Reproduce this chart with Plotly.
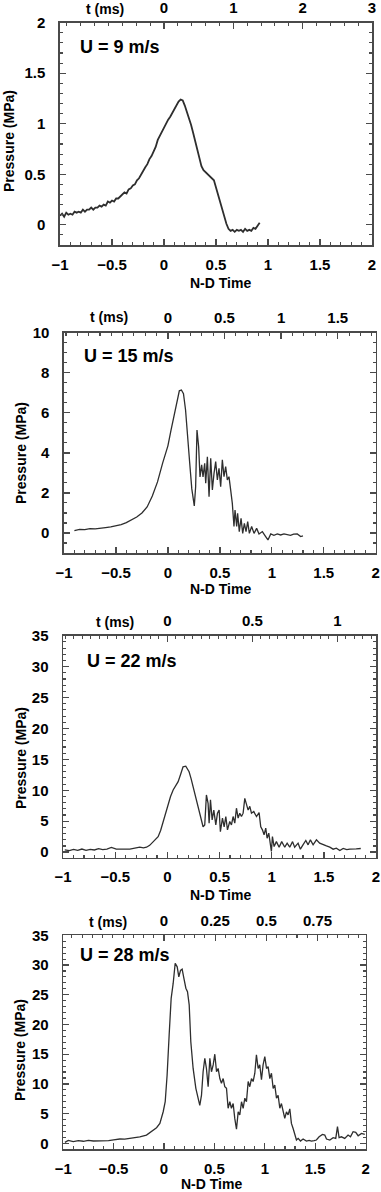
import plotly.graph_objects as go

W, H = 381, 1192

# ---------------- data ----------------
# Panel 1: U = 9 m/s
nd_9 = [-1.00, -0.98, -0.96, -0.94, -0.92, -0.90, -0.88, -0.86, -0.84, -0.82,
        -0.80, -0.78, -0.76, -0.74, -0.72, -0.70, -0.68, -0.66, -0.64, -0.62,
        -0.60, -0.58, -0.56, -0.54, -0.52, -0.50, -0.48, -0.46, -0.44, -0.42,
        -0.40, -0.38, -0.36, -0.34, -0.32, -0.30, -0.28, -0.26, -0.24, -0.22,
        -0.20, -0.18, -0.16, -0.14, -0.12, -0.10, -0.08, -0.06, -0.04, -0.02,
        0.00, 0.02, 0.04, 0.06, 0.08, 0.10, 0.12, 0.14, 0.16, 0.18,
        0.20, 0.22, 0.24, 0.26, 0.28, 0.30, 0.32, 0.34, 0.36, 0.38,
        0.40, 0.42, 0.44, 0.46, 0.48, 0.50, 0.52, 0.54, 0.56, 0.58,
        0.60, 0.62, 0.64, 0.66, 0.68, 0.70, 0.72, 0.74, 0.76, 0.78,
        0.80, 0.82, 0.84, 0.86, 0.88, 0.90, 0.92]
p_9 = [0.09, 0.11, 0.08, 0.12, 0.10, 0.11, 0.10, 0.13, 0.12, 0.13,
       0.12, 0.15, 0.13, 0.15, 0.15, 0.17, 0.15, 0.17, 0.17, 0.19,
       0.18, 0.20, 0.19, 0.23, 0.22, 0.24, 0.23, 0.26, 0.26, 0.28,
       0.29, 0.32, 0.31, 0.35, 0.36, 0.39, 0.40, 0.44, 0.46, 0.50,
       0.53, 0.57, 0.60, 0.65, 0.68, 0.73, 0.77, 0.84, 0.88, 0.93,
       0.96, 1.00, 1.04, 1.07, 1.11, 1.15, 1.19, 1.22, 1.24, 1.23,
       1.18, 1.12, 1.06, 0.99, 0.91, 0.83, 0.74, 0.66, 0.58, 0.54,
       0.52, 0.51, 0.49, 0.47, 0.44, 0.37, 0.30, 0.23, 0.15, 0.07,
       0.01, -0.04, -0.06, -0.05, -0.07, -0.05, -0.06, -0.05, -0.07, -0.04,
       -0.06, -0.05, -0.06, -0.03, -0.04, -0.01, 0.02]

# Panel 2: U = 15 m/s
nd_15 = [-0.90, -0.85, -0.80, -0.75, -0.70, -0.65, -0.60, -0.55, -0.50, -0.45,
         -0.40, -0.35, -0.30, -0.25, -0.20, -0.15, -0.10, -0.05, 0.00, 0.03,
         0.06, 0.09, 0.11, 0.13, 0.15, 0.17, 0.19, 0.21, 0.23, 0.245,
         0.254, 0.267, 0.28, 0.296, 0.309, 0.325, 0.338, 0.354, 0.364, 0.38,
         0.396, 0.412, 0.428, 0.444, 0.46, 0.476, 0.492, 0.508, 0.524, 0.54,
         0.556, 0.572, 0.588, 0.604, 0.62, 0.636, 0.646, 0.662, 0.671, 0.687,
         0.704, 0.72, 0.736, 0.752, 0.768, 0.784, 0.806, 0.829, 0.854, 0.877,
         0.909, 0.941, 0.963, 0.99, 1.02, 1.053, 1.085, 1.117, 1.15, 1.18,
         1.21, 1.245, 1.278, 1.30]
p_15 = [0.12, 0.18, 0.17, 0.22, 0.20, 0.25, 0.27, 0.30, 0.35, 0.42,
        0.52, 0.65, 0.80, 1.00, 1.30, 1.85, 2.55, 3.50, 4.35, 5.14,
        5.90, 6.60, 7.10, 7.14, 6.95, 6.14, 5.00, 3.48, 2.20, 1.65,
        1.35, 2.31, 5.14, 4.30, 2.80, 3.40, 2.80, 3.48, 2.48, 3.81,
        1.81, 3.73, 2.15, 2.98, 3.56, 2.65, 3.23, 2.31, 3.65, 2.81,
        3.31, 2.65, 2.81, 2.15, 1.48, 0.32, 1.15, 0.32, 0.98, 0.07,
        0.73, -0.02, 0.48, 0.07, 0.57, -0.02, 0.32, -0.02, 0.23, -0.05,
        0.07, -0.18, -0.35, -0.05, -0.12, -0.05, -0.10, -0.05, -0.08, -0.12,
        -0.06, -0.05, -0.18, -0.15]

# Panel 3: U = 22 m/s
nd_22 = [-0.984, -0.94, -0.90, -0.86, -0.82, -0.78, -0.74, -0.70, -0.66, -0.62,
         -0.58, -0.537, -0.49, -0.44, -0.40, -0.36, -0.31, -0.265, -0.23, -0.20,
         -0.17, -0.137, -0.11, -0.089, -0.065, -0.041, -0.017, 0.007, 0.03, 0.055,
         0.08, 0.103, 0.127, 0.15, 0.176, 0.208, 0.227, 0.246, 0.27, 0.294,
         0.318, 0.342, 0.358, 0.374, 0.39, 0.40, 0.413, 0.429, 0.445, 0.464,
         0.48, 0.496, 0.508, 0.528, 0.544, 0.56, 0.576, 0.598, 0.614, 0.63,
         0.646, 0.662, 0.678, 0.694, 0.71, 0.726, 0.742, 0.758, 0.774, 0.79,
         0.806, 0.828, 0.854, 0.879, 0.895, 0.911, 0.927, 0.943, 0.956, 0.972,
         0.988, 0.997, 1.007, 1.023, 1.045, 1.071, 1.096, 1.125, 1.148, 1.173,
         1.20, 1.22, 1.253, 1.275, 1.30, 1.327, 1.349, 1.371, 1.397, 1.429,
         1.46, 1.493, 1.525, 1.557, 1.589, 1.62, 1.653, 1.685, 1.72, 1.749,
         1.78, 1.81, 1.854]
p_22 = [0.37, 0.25, 0.45, 0.30, 0.50, 0.28, 0.45, 0.35, 0.55, 0.40,
        0.50, 0.75, 0.48, 0.55, 0.50, 0.48, 0.62, 0.80, 0.70, 0.80,
        1.10, 1.70, 2.10, 2.50, 3.50, 4.95, 6.60, 7.90, 9.00, 10.06,
        10.70, 11.40, 12.60, 13.80, 13.90, 13.00, 11.90, 10.60, 9.00, 7.40,
        5.70, 4.10, 4.40, 9.25, 7.90, 4.68, 8.45, 5.20, 6.80, 4.40,
        6.30, 6.80, 3.30, 5.50, 4.10, 5.76, 3.60, 4.95, 4.40, 5.76,
        4.68, 7.10, 5.50, 6.30, 5.76, 6.30, 8.70, 7.60, 6.80, 7.40,
        6.30, 6.56, 5.76, 6.40, 4.10, 3.60, 2.80, 3.87, 2.25, 3.06,
        1.18, 0.10, 2.50, 0.90, 1.70, 0.80, 1.70, 0.80, 1.45, 0.80,
        1.70, 0.80, 1.45, 0.48, 1.18, 1.88, 1.18, 1.99, 1.18, 1.99,
        1.45, 1.18, 1.00, 0.80, 0.48, 0.64, 0.26, 0.59, 0.40, 0.48,
        0.55, 0.53, 0.59]

# Panel 4: U = 28 m/s
nd_28 = [-0.983, -0.95, -0.90, -0.85, -0.80, -0.75, -0.70, -0.65, -0.60, -0.55,
         -0.50, -0.438, -0.39, -0.339, -0.29, -0.24, -0.174, -0.124, -0.074, -0.041,
         -0.008, 0.012, 0.031, 0.051, 0.071, 0.091, 0.111, 0.131, 0.147, 0.164,
         0.18, 0.197, 0.217, 0.233, 0.25, 0.266, 0.289, 0.316, 0.339, 0.355,
         0.372, 0.388, 0.405, 0.421, 0.438, 0.455, 0.471, 0.488, 0.504, 0.521,
         0.537, 0.554, 0.57, 0.587, 0.603, 0.62, 0.636, 0.653, 0.669, 0.686,
         0.702, 0.719, 0.736, 0.752, 0.769, 0.785, 0.802, 0.818, 0.835, 0.851,
         0.868, 0.884, 0.901, 0.917, 0.934, 0.95, 0.967, 0.983, 1.00, 1.017,
         1.033, 1.05, 1.066, 1.083, 1.099, 1.116, 1.132, 1.149, 1.165, 1.182,
         1.198, 1.215, 1.231, 1.248, 1.264, 1.281, 1.297, 1.314, 1.331, 1.354,
         1.38, 1.413, 1.44, 1.463, 1.49, 1.512, 1.539, 1.572, 1.595, 1.612,
         1.645, 1.678, 1.704, 1.721, 1.737, 1.76, 1.793, 1.826, 1.85, 1.876,
         1.902, 1.926, 1.959, 1.992]
p_28 = [0.16, 0.50, 0.30, 0.45, 0.35, 0.50, 0.40, 0.40, 0.50, 0.45,
        0.60, 0.73, 0.70, 0.84, 0.90, 1.10, 1.40, 1.96, 2.63, 3.36,
        5.32, 7.00, 11.50, 18.20, 24.40, 26.90, 30.30, 29.70, 28.00, 29.10,
        29.30, 27.80, 26.10, 25.50, 23.30, 17.10, 12.60, 9.25, 7.30, 6.40,
        8.10, 12.05, 14.30, 12.60, 9.53, 14.30, 12.05, 13.20, 15.00, 12.05,
        12.60, 10.90, 10.10, 10.90, 9.53, 9.25, 5.90, 7.00, 5.90, 6.70,
        4.20, 2.40, 5.30, 4.80, 7.00, 5.90, 7.60, 7.00, 10.40, 9.53,
        10.90, 10.40, 11.80, 14.90, 12.60, 13.20, 10.70, 13.20, 14.60, 12.60,
        12.90, 10.90, 11.80, 9.25, 9.80, 7.60, 8.10, 5.90, 6.70, 5.30,
        4.20, 5.30, 4.80, 5.80, 3.36, 2.50, 1.40, 0.56, 0.84, 0.39,
        0.73, 0.39, 0.50, 0.39, 0.45, 0.56, 1.10, 1.50, 1.40, 0.73,
        0.56, 0.95, 0.84, 2.80, 0.95, 1.10, 0.84, 1.40, 1.10, 1.96,
        1.85, 1.28, 1.68, 1.50]

labels = ["U = 9 m/s", "U = 15 m/s", "U = 22 m/s", "U = 28 m/s"]
series = [(nd_9, p_9), (nd_15, p_15), (nd_22, p_22), (nd_28, p_28)]
widths = [1.8, 1.3, 1.3, 1.3]

# ---------------- layout geometry (pixels) ----------------
panels = [
    dict(x0=60, x1=372, y0=22.7, y1=245, yr=[-0.2, 2], ydt=0.5, ymin=0.1,
         tr=[-1.5, 3], tdt=1, tmin=0.2, tvals=[0, 1, 2, 3],
         lab=(78, 47), tms=(105, 9), ytl=(9, 141), ndt=(220, 283)),
    dict(x0=64, x1=375.7, y0=332.7, y1=553, yr=[-1, 10], ydt=2, ymin=0.5,
         tr=[-1/1.09, 2/1.09], tdt=0.5, tmin=0.1, tvals=[0, 0.5, 1, 1.5],
         lab=(82, 356), tms=(109, 317), ytl=(21, 453), ndt=(220, 589)),
    dict(x0=63.1, x1=376, y0=635.7, y1=857.7, yr=[-0.9, 35], ydt=5, ymin=1,
         tr=[-1/1.63, 2/1.63], tdt=0.5, tmin=0.05, tvals=[0, 0.5, 1],
         lab=(85, 661), tms=(115, 622), ytl=(21, 758), ndt=(220, 895)),
    dict(x0=63.2, x1=365.6, y0=935.3, y1=1149.3, yr=[-1, 35], ydt=5, ymin=1,
         tr=[-1/2.03, 2/2.03], tdt=0.25, tmin=0.05, tvals=[0, 0.25, 0.5, 0.75],
         lab=(78, 955), tms=(108, 922), ytl=(20, 1050), ndt=(211, 1184)),
]

FONT = "Arial, Liberation Sans, Helvetica, sans-serif"
AX = "#4a4a4a"
LINE = "#2e2e2e"

fig = go.Figure()
layout = dict(width=W, height=H, margin=dict(l=0, r=0, t=0, b=0, pad=0, autoexpand=False),
              paper_bgcolor="white", plot_bgcolor="white", showlegend=False,
              font=dict(family=FONT, color="black"))
annotations = []

def fx(px):
    return px / W

def fy(py):
    return 1 - py / H

for i, (pn, (xs, ys)) in enumerate(zip(panels, series)):
    xm = f"x{2*i+1}" if i > 0 else "x"
    xt = f"x{2*i+2}"
    yk = f"y{i+1}" if i > 0 else "y"
    xm_name = "xaxis" + (str(2*i+1) if i > 0 else "")
    xt_name = "xaxis" + str(2*i+2)
    y_name = "yaxis" + (str(i+1) if i > 0 else "")

    fig.add_trace(go.Scatter(x=xs, y=ys, mode="lines", xaxis=xm, yaxis=yk,
                             line=dict(color=LINE, width=widths[i]), hoverinfo="skip"))
    # dummy trace so the top (ms) axis is drawn
    fig.add_trace(go.Scatter(x=pn["tr"], y=[None, None], mode="lines", xaxis=xt, yaxis=yk,
                             hoverinfo="skip", showlegend=False))

    dom_x = [fx(pn["x0"]), fx(pn["x1"])]
    dom_y = [fy(pn["y1"]), fy(pn["y0"])]

    tf = dict(size=15, family=FONT, weight="bold", color="black")
    layout[xm_name] = dict(domain=dom_x, anchor=yk, range=[-1, 2], tickmode="linear",
                           tick0=-1, dtick=0.5, ticks="inside", ticklen=6, tickwidth=1.3,
                           tickcolor=AX, showline=True, linecolor=AX, linewidth=1.6,
                           showgrid=False, zeroline=False, ticklabelstandoff=5,
                           automargin=False, tickfont=tf,
                           minor=dict(dtick=0.1, tick0=-1, ticks="inside", ticklen=3,
                                      tickwidth=1.1, tickcolor=AX, showgrid=False))
    layout[xt_name] = dict(overlaying=xm, anchor=yk, side="top", range=pn["tr"],
                           tickmode="array", tickvals=pn["tvals"],
                           ticktext=[f"{v:g}" for v in pn["tvals"]],
                           ticks="inside", ticklen=6, tickwidth=1.3, tickcolor=AX,
                           showline=True, linecolor=AX, linewidth=1.6,
                           showgrid=False, zeroline=False, ticklabelstandoff=2,
                           automargin=False, tickfont=tf,
                           minor=dict(dtick=pn["tmin"], tick0=0, ticks="inside", ticklen=3,
                                      tickwidth=1.1, tickcolor=AX, showgrid=False))
    layout[y_name] = dict(domain=dom_y, anchor=xm, range=pn["yr"], tickmode="linear",
                          tick0=0, dtick=pn["ydt"], ticks="inside", ticklen=6, tickwidth=1.3,
                          tickcolor=AX, showline=True, linecolor=AX, linewidth=1.6,
                          mirror="ticks", showgrid=False, zeroline=False,
                          ticklabelstandoff=10, automargin=False, tickfont=tf,
                          minor=dict(dtick=pn["ymin"], tick0=0, ticks="inside", ticklen=3,
                                     tickwidth=1.1, tickcolor=AX, showgrid=False))

    annotations.append(dict(text=labels[i], x=fx(pn["lab"][0]), y=fy(pn["lab"][1]),
                            xref="paper", yref="paper", xanchor="left", yanchor="middle",
                            showarrow=False,
                            font=dict(size=18, family=FONT, weight="bold", color="black")))
    annotations.append(dict(text="t (ms)", x=fx(pn["tms"][0]), y=fy(pn["tms"][1]),
                            xref="paper", yref="paper", xanchor="center", yanchor="middle",
                            showarrow=False,
                            font=dict(size=14, family=FONT, weight="bold", color="black")))
    annotations.append(dict(text="Pressure (MPa)", x=fx(pn["ytl"][0]), y=fy(pn["ytl"][1]),
                            xref="paper", yref="paper", xanchor="center", yanchor="middle",
                            textangle=-90, showarrow=False,
                            font=dict(size=14, family=FONT, weight="bold", color="black")))
    annotations.append(dict(text="N-D Time", x=fx(pn["ndt"][0]), y=fy(pn["ndt"][1]),
                            xref="paper", yref="paper", xanchor="center", yanchor="middle",
                            showarrow=False,
                            font=dict(size=14, family=FONT, weight="bold", color="black")))

layout["annotations"] = annotations
fig.update_layout(**layout)
fig.write_html("out.html", config={"displayModeBar": False, "staticPlot": True},
               post_script="document.body.style.margin='0';document.body.style.overflow='hidden';")
